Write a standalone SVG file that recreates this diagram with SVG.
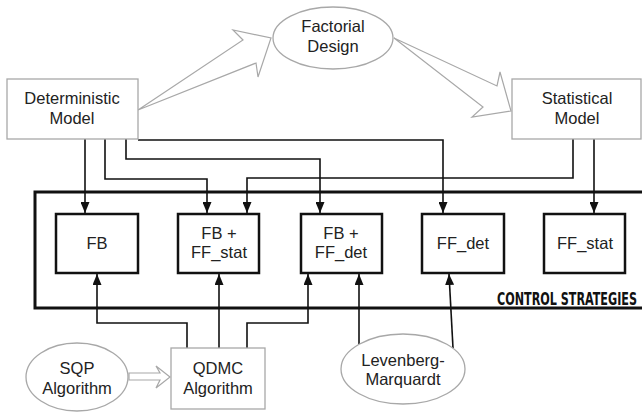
<svg xmlns="http://www.w3.org/2000/svg" width="642" height="412" viewBox="0 0 642 412">
  <style>
    .soft { fill: #fff; stroke: #a8a8a8; stroke-width: 1.3; }
    .strat { fill: #fff; stroke: #111; stroke-width: 2.5; }
    .lbl { font-family: "Liberation Sans", Arial, sans-serif; font-size: 16.5px; fill: #222; text-anchor: middle; }
    .wire { fill: none; stroke: #111; stroke-width: 1.6; marker-end: url(#tip); }
    .hollow { fill: #fff; stroke: #a8a8a8; stroke-width: 1.2; stroke-linejoin: miter; }
    .title { font-family: "Liberation Sans Narrow", "DejaVu Sans Condensed", "Liberation Sans", sans-serif; font-size: 17px; font-weight: bold; fill: #111; text-anchor: end; }
  </style>
  <defs>
    <marker id="tip" viewBox="0 0 11 9" refX="11" refY="4.5" markerWidth="11" markerHeight="9" markerUnits="userSpaceOnUse" orient="auto">
      <path d="M0,0 L11,4.5 L0,9 z" fill="#111"/>
    </marker>
  </defs>
  <rect width="642" height="412" fill="#fff"/>

  <!-- strategies frame -->
  <g id="control-strategies">
    <rect x="35" y="192" width="630" height="116" fill="none" stroke="#111" stroke-width="3"/>
    <text class="title" x="637" y="305" textLength="140" lengthAdjust="spacingAndGlyphs">CONTROL STRATEGIES</text>
  </g>

  <!-- wide hollow arrows between models -->
  <g id="hollow-arrows">
    <polygon class="hollow" points="138,110 243,40 233,30 271,38 258,77 256,63"/>
    <polygon class="hollow" points="394,38 497,86 500,72 511,111 472,117 483,107"/>
    <polygon class="hollow" points="129,373 160,373 156,366 170,377 156,388 160,380 129,380"/>
  </g>

  <!-- connectors -->
  <g id="connectors">
    <path class="wire" d="M85,139 V213"/>
    <path class="wire" d="M105,139 V179 H207 V213"/>
    <path class="wire" d="M126,139 V159 H320 V213"/>
    <path class="wire" d="M138,140 H443 V213"/>
    <path class="wire" d="M573,139 V178 H247 V213"/>
    <path class="wire" d="M594,139 V213"/>
    <path class="wire" d="M187,348 V323 H97 V274"/>
    <path class="wire" d="M219,348 V274"/>
    <path class="wire" d="M247,348 V323 H308 V274"/>
    <path class="wire" d="M359,344 V274"/>
    <path class="wire" d="M453,348 L449,274"/>
  </g>

  <!-- source models -->
  <g id="deterministic-model">
    <rect class="soft" x="7" y="79" width="131" height="60"/>
    <text class="lbl" x="72" y="104">Deterministic</text>
    <text class="lbl" x="72" y="124">Model</text>
  </g>
  <g id="factorial-design">
    <ellipse class="soft" cx="333" cy="38" rx="60" ry="31"/>
    <text class="lbl" x="333" y="32">Factorial</text>
    <text class="lbl" x="333" y="52">Design</text>
  </g>
  <g id="statistical-model">
    <rect class="soft" x="512" y="79" width="129" height="60"/>
    <text class="lbl" x="577" y="104">Statistical</text>
    <text class="lbl" x="577" y="124">Model</text>
  </g>

  <!-- strategies -->
  <g id="fb">
    <rect class="strat" x="56" y="214" width="82" height="59"/>
    <text class="lbl" x="97" y="249">FB</text>
  </g>
  <g id="fb-ff-stat">
    <rect class="strat" x="178" y="214" width="81" height="59"/>
    <text class="lbl" x="219" y="239">FB +</text>
    <text class="lbl" x="219" y="258">FF_stat</text>
  </g>
  <g id="fb-ff-det">
    <rect class="strat" x="301" y="214" width="81" height="59"/>
    <text class="lbl" x="341" y="239">FB +</text>
    <text class="lbl" x="341" y="258">FF_det</text>
  </g>
  <g id="ff-det">
    <rect class="strat" x="422" y="214" width="82" height="59"/>
    <text class="lbl" x="463" y="249">FF_det</text>
  </g>
  <g id="ff-stat">
    <rect class="strat" x="544" y="214" width="81" height="59"/>
    <text class="lbl" x="585" y="249">FF_stat</text>
  </g>

  <!-- algorithms -->
  <g id="sqp">
    <ellipse class="soft" cx="77" cy="377" rx="51" ry="34"/>
    <text class="lbl" x="77" y="374">SQP</text>
    <text class="lbl" x="77" y="394">Algorithm</text>
  </g>
  <g id="qdmc">
    <rect class="soft" x="171" y="348" width="94" height="61"/>
    <text class="lbl" x="218" y="374">QDMC</text>
    <text class="lbl" x="218" y="394">Algorithm</text>
  </g>
  <g id="levenberg-marquardt">
    <ellipse class="soft" cx="403" cy="369" rx="62" ry="35"/>
    <text class="lbl" x="403" y="366">Levenberg-</text>
    <text class="lbl" x="403" y="385">Marquardt</text>
  </g>
</svg>
